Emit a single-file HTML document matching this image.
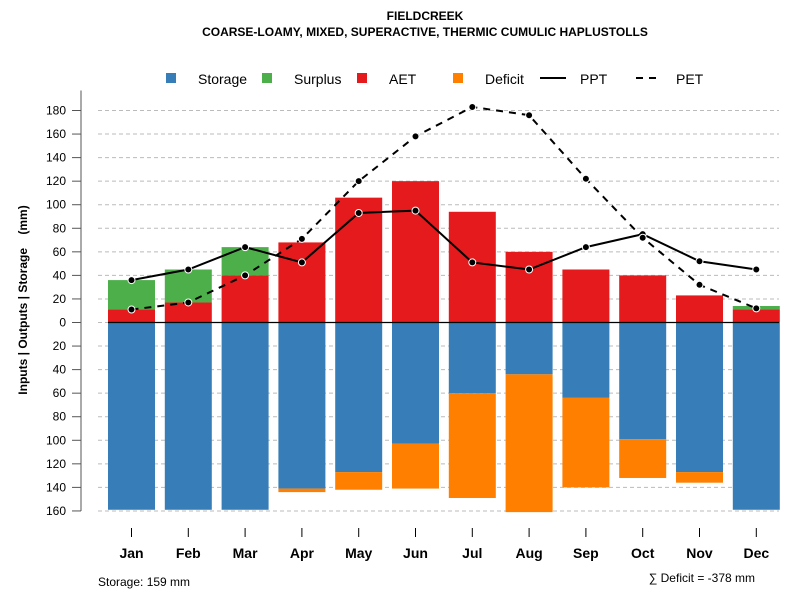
<!DOCTYPE html>
<html><head><meta charset="utf-8"><style>
body{margin:0;background:#fff}
svg text{font-family:"Liberation Sans",Arial,sans-serif}
</style></head><body>
<svg id="c" width="800" height="600" xmlns="http://www.w3.org/2000/svg">
<text x="425" y="20" text-anchor="middle" font-size="12" font-weight="bold">FIELDCREEK</text>
<text x="425" y="36" text-anchor="middle" font-size="12" font-weight="bold">COARSE-LOAMY, MIXED, SUPERACTIVE, THERMIC CUMULIC HAPLUSTOLLS</text>
<g>
<rect x="166" y="73" width="10" height="10" fill="#377eb8"/>
<text x="198" y="84" font-size="14">Storage</text>
<rect x="262" y="73" width="10" height="10" fill="#4daf4a"/>
<text x="294" y="84" font-size="14">Surplus</text>
<rect x="357" y="73" width="10" height="10" fill="#e41a1c"/>
<text x="389" y="84" font-size="14">AET</text>
<rect x="453" y="73" width="10" height="10" fill="#ff7f00"/>
<text x="485" y="84" font-size="14">Deficit</text>
<line x1="540" y1="78" x2="566" y2="78" stroke="#000" stroke-width="2"/>
<text x="580" y="84" font-size="14">PPT</text>
<line x1="636" y1="78" x2="662" y2="78" stroke="#000" stroke-width="2" stroke-dasharray="7,6"/>
<text x="676" y="84" font-size="14">PET</text>
</g>
<text transform="translate(27,300) rotate(-90)" text-anchor="middle" font-size="12" font-weight="bold">Inputs | Outputs | Storage&#160;&#160;&#160;&#160;(mm)</text>
<text x="98" y="586" font-size="12">Storage: 159 mm</text>
<text x="755" y="582" text-anchor="end" font-size="12">∑ Deficit = -378 mm</text>
<g id="g"></g>
</svg>
<script>
const months=["Jan","Feb","Mar","Apr","May","Jun","Jul","Aug","Sep","Oct","Nov","Dec"];
const aet=[11,17,40,68,106,120,94,60,45,40,23,11];
const surplus=[25,28,24,0,0,0,0,0,0,0,0,3];
const storage=[159,159,159,141,127,103,60,44,64,99,127,159];
const deficit=[0,0,0,3,15,38,89,117,76,33,9,0];
const ppt=[36,45,64,51,93,95,51,45,64,75,52,45];
const pet=[11,17,40,71,120,158,183,176,122,72,32,12];
const yTicks=[180,160,140,120,100,80,60,40,20,0,-20,-40,-60,-80,-100,-120,-140,-160];
const NS="http://www.w3.org/2000/svg",g=document.getElementById('g');
const y=v=>322.5-v*1.1778, xc=i=>131.5+i*56.8, bw=47;
function mk(t,a){const e=document.createElementNS(NS,t);for(const k in a)e.setAttribute(k,a[k]);g.appendChild(e);return e;}
let ax=mk('line',{x1:81,y1:y(180)-20,x2:81,y2:y(-160),stroke:'#555','stroke-width':1});


yTicks.forEach(v=>{
 let gl=mk('line',{x1:98,x2:779,y1:y(v),y2:y(v),stroke:'#bbb','stroke-dasharray':'4,3'});
 
 
 let tk=mk('line',{x1:72,x2:81,y1:y(v),y2:y(v),stroke:'#555'});
 
 
 let t=mk('text',{x:66,y:y(v)+4,'text-anchor':'end','font-size':12});t.textContent=Math.abs(v);
 
 
});
months.forEach((m,i)=>{
 const x=xc(i)-bw/2;
 let s=mk('rect',{x:x,y:y(0),width:bw,height:y(-storage[i])-y(0),fill:'#377eb8'});
 
 
 if(deficit[i]>0){let d=mk('rect',{x:x,y:y(-storage[i]),width:bw,height:deficit[i]*1.1778,fill:'#ff7f00'});
 
 }
 let a=mk('rect',{x:x,y:y(aet[i]),width:bw,height:aet[i]*1.1778,fill:'#e41a1c'});
 
 
 if(surplus[i]>0){let su=mk('rect',{x:x,y:y(aet[i]+surplus[i]),width:bw,height:surplus[i]*1.1778,fill:'#4daf4a'});
 
 }
 let tk=mk('line',{x1:xc(i),x2:xc(i),y1:528,y2:537,stroke:'#000'});
 
 
 let t=mk('text',{x:xc(i),y:558,'text-anchor':'middle','font-size':14,'font-weight':'bold'});t.textContent=m;
 
 
});
let z=mk('line',{x1:108,x2:779,y1:y(0),y2:y(0),stroke:'#000','stroke-width':1.2});


[[ppt,'','ppt'],[pet,'7,6','pet']].forEach(([arr,da,n])=>{
 let p=mk('polyline',{points:arr.map((v,i)=>xc(i)+','+y(v)).join(' '),fill:'none',stroke:'#000','stroke-width':2,'stroke-dasharray':da});
 
 
 arr.forEach((v,i)=>{let c=mk('circle',{cx:xc(i),cy:y(v),r:3.5,fill:'#000',stroke:'#fff','stroke-width':1});
 
 });
});
</script>
</body></html>
